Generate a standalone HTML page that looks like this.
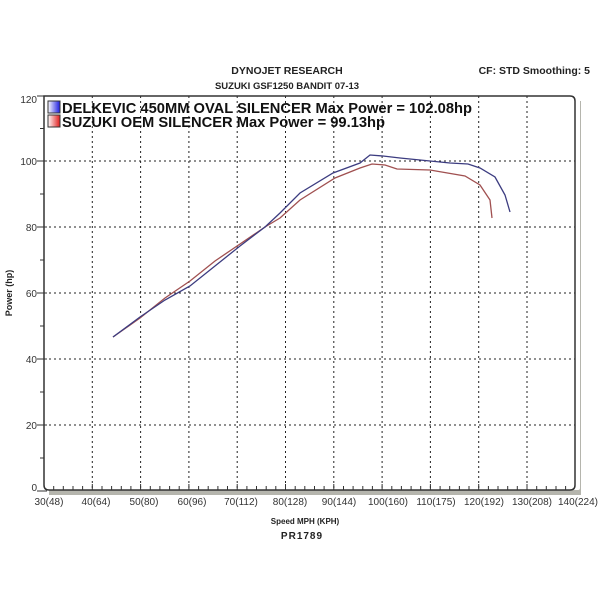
<!DOCTYPE html>
<html><head><meta charset="utf-8"><style>
html,body{margin:0;padding:0;background:#fff;}
svg{display:block;font-family:"Liberation Sans",Arial,sans-serif;}
</style></head><body>
<svg width="600" height="600" viewBox="0 0 600 600">
<defs>
<linearGradient id="gb" x1="0" x2="1"><stop offset="0" stop-color="#fff"/><stop offset="1" stop-color="#1a1ae0"/></linearGradient>
<linearGradient id="gr" x1="0" x2="1"><stop offset="0" stop-color="#fff"/><stop offset="1" stop-color="#e01a1a"/></linearGradient>
</defs>
<rect width="600" height="600" fill="#fff"/>
<text x="287" y="74" font-size="10.5" font-weight="bold" text-anchor="middle" fill="#222">DYNOJET RESEARCH</text>
<text x="287" y="89" font-size="9.5" font-weight="bold" text-anchor="middle" fill="#222">SUZUKI GSF1250 BANDIT 07-13</text>
<text x="590" y="74" font-size="10.5" font-weight="bold" text-anchor="end" fill="#222">CF: STD  Smoothing: 5</text>
<!-- shadow -->
<path d="M49 490 L578 490 Q580 490 580 488 L580 101 L581 101 L581 495 L49 495 Z" fill="#b5b5ad"/>
<!-- grid -->
<g stroke="#222" stroke-width="1" stroke-dasharray="2,3">
<line x1="44" y1="161" x2="575" y2="161"/><line x1="44" y1="227" x2="575" y2="227"/>
<line x1="44" y1="293" x2="575" y2="293"/><line x1="44" y1="359" x2="575" y2="359"/>
<line x1="44" y1="425" x2="575" y2="425"/>
<line x1="92.3" y1="96" x2="92.3" y2="490"/><line x1="140.6" y1="96" x2="140.6" y2="490"/>
<line x1="188.9" y1="96" x2="188.9" y2="490"/><line x1="237.2" y1="96" x2="237.2" y2="490"/>
<line x1="285.5" y1="96" x2="285.5" y2="490"/><line x1="333.8" y1="96" x2="333.8" y2="490"/>
<line x1="382.1" y1="96" x2="382.1" y2="490"/><line x1="430.4" y1="96" x2="430.4" y2="490"/>
<line x1="478.7" y1="96" x2="478.7" y2="490"/><line x1="527" y1="96" x2="527" y2="490"/>
</g>
<path d="M44 96 L570 96 Q575 96 575 101 L575 485 Q575 490 570 490 L49 490 Q44 490 44 485 Z" fill="none" stroke="#333" stroke-width="1.5"/>
<!-- ticks -->
<g stroke="#333" stroke-width="1">
<path d="M37 96H47M37 161H47M37 227H47M37 293H47M37 359H47M37 425H47M37 491H47"/>
<path d="M40 128.5H44M40 194H44M40 260H44M40 326H44M40 392H44M40 458H44"/>
<path id="xt" d="M53.7 486V490M63.3 486V490M73 486V490M82.6 486V490"/>
<use href="#xt" x="48.3"/><use href="#xt" x="96.6"/><use href="#xt" x="144.9"/><use href="#xt" x="193.2"/><use href="#xt" x="241.5"/><use href="#xt" x="289.8"/><use href="#xt" x="338.1"/><use href="#xt" x="386.4"/><use href="#xt" x="434.7"/><use href="#xt" x="483"/>
<path d="M92.3 484V490M140.6 484V490M188.9 484V490M237.2 484V490M285.5 484V490M333.8 484V490M382.1 484V490M430.4 484V490M478.7 484V490M527 484V490"/>
</g>
<g font-size="10" fill="#333" text-anchor="end">
<text x="37" y="103">120</text><text x="37" y="165">100</text><text x="37" y="231">80</text>
<text x="37" y="297">60</text><text x="37" y="363">40</text><text x="37" y="429">20</text><text x="37" y="491">0</text>
</g>
<g font-size="10" fill="#333" text-anchor="middle">
<text x="49" y="505">30(48)</text><text x="96" y="505">40(64)</text><text x="144" y="505">50(80)</text>
<text x="192" y="505">60(96)</text><text x="241" y="505">70(112)</text><text x="290" y="505">80(128)</text>
<text x="339" y="505">90(144)</text><text x="388" y="505">100(160)</text><text x="436" y="505">110(175)</text>
<text x="484" y="505">120(192)</text><text x="532" y="505">130(208)</text><text x="578" y="505">140(224)</text>
</g>
<text x="305" y="524" font-size="8" font-weight="bold" text-anchor="middle" fill="#222">Speed MPH (KPH)</text>
<text x="302" y="539" font-size="10" font-weight="bold" text-anchor="middle" fill="#222" letter-spacing="1">PR1789</text>
<text transform="translate(12,293) rotate(-90)" font-size="9" font-weight="bold" text-anchor="middle" fill="#222">Power (hp)</text>
<!-- legend -->
<rect x="48" y="101" width="12" height="12" fill="url(#gb)" stroke="#333"/>
<rect x="48" y="115" width="12" height="12" fill="url(#gr)" stroke="#333"/>
<text x="62" y="113" font-size="15" font-weight="bold" fill="#111" textLength="410" lengthAdjust="spacingAndGlyphs">DELKEVIC 450MM OVAL SILENCER Max Power  = 102.08hp</text>
<text x="62" y="127" font-size="15" font-weight="bold" fill="#111" textLength="323" lengthAdjust="spacingAndGlyphs">SUZUKI OEM SILENCER Max Power = 99.13hp</text>
<!-- curves -->
<polyline fill="none" stroke="#a05050" stroke-width="1.3" points="113,337 140,318 165,298 190,281 215,261 240,244 265,227 280,218 300,200 335,178 360,168 372,164 385,165 397,169 430,170 465,176 480,185 490,200 492,218"/>
<polyline fill="none" stroke="#3c3c80" stroke-width="1.3" points="113,337 140,317 165,300 190,286 215,266 240,246 265,227 280,213 300,193 333,173 360,163 370,155 383,156 400,158 430,161 450,163 468,164 480,168 495,177 505,195 510,212"/>
</svg>
</body></html>
